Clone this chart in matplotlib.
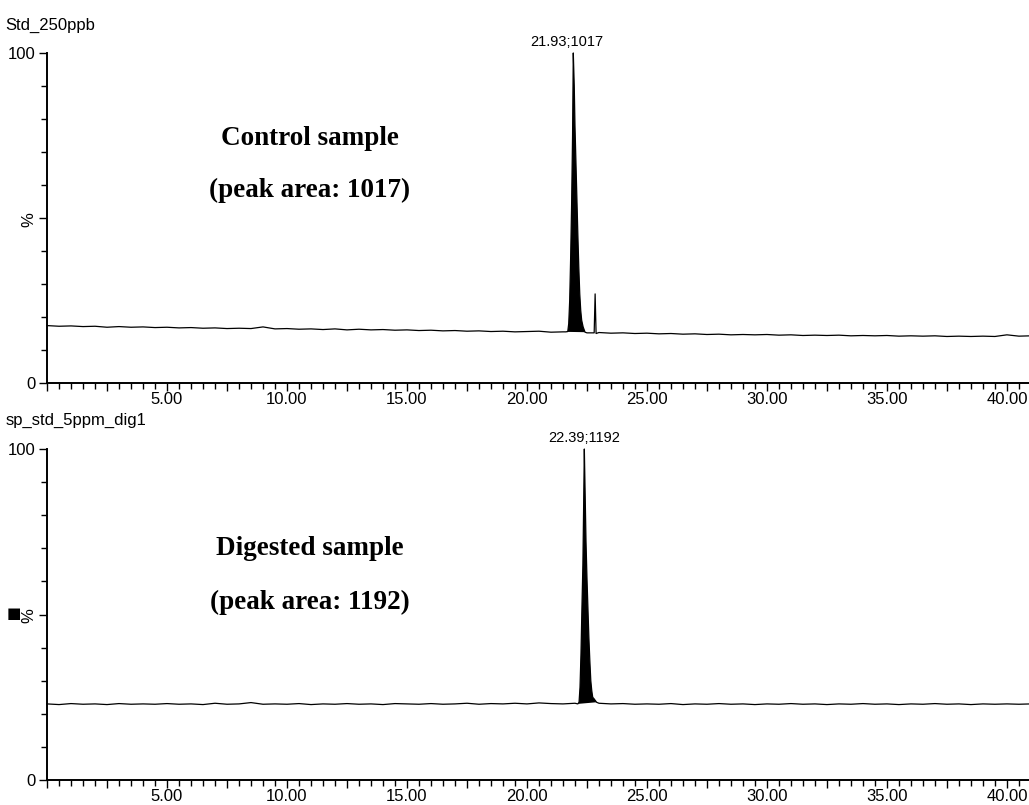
import numpy as np
import matplotlib
matplotlib.use('Agg')
import matplotlib.pyplot as plt
from matplotlib.ticker import MultipleLocator, FixedLocator, FuncFormatter

plt.rcParams['font.family'] = ['Liberation Sans', 'DejaVu Sans']

# retention time grid for the baseline readings (min)
base_t = np.arange(0, 41.01, 0.5)

# Std_250ppb (control) baseline, % of max
top_base = [17.4, 17.2, 17.3, 17.1, 17.2, 16.9, 17.1, 16.9, 17.0, 16.8,
            16.9, 16.7, 16.8, 16.6, 16.7, 16.5, 16.6, 16.5, 17.0, 16.4,
            16.5, 16.3, 16.4, 16.2, 16.4, 16.1, 16.3, 16.1, 16.2, 16.0,
            16.1, 15.9, 16.0, 15.8, 15.9, 15.7, 15.8, 15.6, 15.7, 15.5,
            15.6, 15.7, 15.4, 15.5, 15.4, 15.2, 15.3, 15.1, 15.2, 15.0,
            15.1, 14.9, 15.0, 14.8, 14.9, 14.7, 14.8, 14.6, 14.7, 14.6,
            14.7, 14.5, 14.6, 14.4, 14.5, 14.4, 14.5, 14.3, 14.4, 14.3,
            14.4, 14.2, 14.3, 14.2, 14.3, 14.1, 14.2, 14.1, 14.2, 14.1,
            14.6, 14.2, 14.3]
top_peak_t = [21.62, 21.70, 21.74, 21.78, 21.82, 21.86, 21.90, 21.93, 21.97,
              22.00, 22.04, 22.08, 22.12, 22.16, 22.20, 22.24, 22.28, 22.34, 22.42]
top_peak_y = [15.5, 15.6, 18.0, 25.0, 38.0, 54.0, 75.0, 100.0, 90.0,
              78.0, 67.0, 56.0, 45.0, 35.0, 27.0, 22.0, 19.0, 17.0, 15.4]
top_spike_t = [22.80, 22.84, 22.88]
top_spike_y = [15.2, 27.0, 15.0]

# sp_std_5ppm_dig1 (digested) baseline, % of max
bot_base = [23.0, 22.8, 23.1, 22.9, 23.0, 22.8, 23.1, 22.9, 23.0, 22.9,
            23.1, 22.9, 23.0, 22.8, 23.2, 22.9, 23.0, 23.4, 22.9, 23.0,
            22.9, 23.1, 22.8, 23.0, 22.9, 23.1, 22.9, 23.0, 22.8, 23.1,
            23.0, 22.9, 23.1, 22.9, 23.0, 23.2, 22.9, 23.1, 23.0, 23.2,
            23.0, 23.3, 23.1, 23.0, 23.2, 24.0, 23.2, 23.0, 23.1, 22.9,
            23.0, 22.9, 23.1, 22.8, 23.0, 22.9, 23.1, 22.9, 23.0, 22.8,
            23.0, 22.9, 23.1, 22.9, 23.0, 22.8, 23.0, 22.9, 23.1, 22.9,
            23.0, 22.8, 23.0, 22.9, 23.1, 22.9, 23.0, 22.8, 23.0, 22.9,
            23.0, 22.9, 23.0]
bot_peak_t = [22.12, 22.17, 22.21, 22.25, 22.29, 22.33, 22.36, 22.39, 22.42,
              22.46, 22.50, 22.54, 22.58, 22.62, 22.66, 22.70, 22.74, 22.80, 22.90]
bot_peak_y = [23.0, 23.5, 28.0, 38.0, 52.0, 65.0, 82.0, 100.0, 88.0,
              72.0, 61.0, 52.0, 43.0, 36.0, 30.0, 27.0, 25.0, 24.5, 23.5]

XMAX = 40.92


def trace(ax, base, peaks):
    t = np.array(base_t)
    y = np.array(base)
    for pt, py in peaks:
        keep = (t < pt[0]) | (t > pt[-1])
        t = np.concatenate([t[keep], pt])
        y = np.concatenate([y[keep], py])
    order = np.argsort(t)
    ax.plot(t[order], y[order], color='black', lw=0.9, clip_on=False)
    pt, py = peaks[0]
    ax.fill(pt, py, color='black', lw=0)


def style(ax):
    for s in ['top', 'right']:
        ax.spines[s].set_visible(False)
    for s in ['left', 'bottom']:
        ax.spines[s].set_linewidth(1.4)
    ax.set_xlim(0, XMAX)
    ax.set_ylim(0, 100)
    ax.xaxis.set_major_locator(MultipleLocator(2.5))
    ax.xaxis.set_minor_locator(MultipleLocator(0.5))
    ax.xaxis.set_major_formatter(FuncFormatter(
        lambda v, p: '%.2f' % v if v > 0 and abs(v % 5) < 1e-6 else ''))
    ax.yaxis.set_major_locator(FixedLocator([0, 50, 100]))
    ax.yaxis.set_minor_locator(MultipleLocator(10))
    ax.set_yticklabels(['0', '%', '100'])
    ax.get_yticklabels()[1].set_rotation(90)
    ax.tick_params(which='major', length=6, width=1, labelsize=12, pad=2)
    ax.tick_params(which='minor', length=4, width=1)
    ax.tick_params(axis='x', pad=0.5)


fig = plt.figure(figsize=(10.29, 8.05), dpi=100)
ax1 = fig.add_axes([0.0457, 0.5242, 0.9543, 0.41])
ax2 = fig.add_axes([0.0457, 0.0310, 0.9543, 0.4112])

trace(ax1, top_base, [(top_peak_t, top_peak_y), (top_spike_t, top_spike_y)])
trace(ax2, bot_base, [(bot_peak_t, bot_peak_y)])
style(ax1)
style(ax2)

ax1.text(21.68, 101.3, '21.93;1017', ha='center', va='bottom', fontsize=10.5, clip_on=False)
ax2.text(22.38, 101.3, '22.39;1192', ha='center', va='bottom', fontsize=10.5, clip_on=False)

serif = dict(ha='center', va='center', fontsize=19.5, fontweight='bold', family='Liberation Serif')
ax1.text(10.96, 74, 'Control sample', **serif)
ax1.text(10.96, 58.5, '(peak area: 1017)', **serif)
ax2.text(10.96, 69.8, 'Digested sample', **serif)
ax2.text(10.96, 53.8, '(peak area: 1192)', **serif)

fig.text(0.005, 1 - 25 / 805, 'Std_250ppb', va='center', fontsize=12)
fig.text(0.005, 1 - 420 / 805, 'sp_std_5ppm_dig1', va='center', fontsize=12)
fig.text(14 / 1029, 1 - 614 / 805, '\u25a0', ha='center', va='center', fontsize=11,
         family=['DejaVu Sans'])

plt.savefig('out.png', dpi=100)
plt.close(fig)
